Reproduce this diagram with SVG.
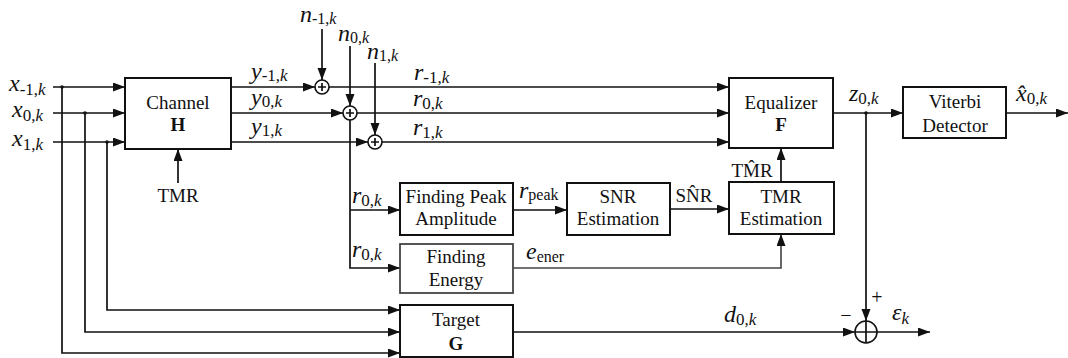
<svg xmlns="http://www.w3.org/2000/svg" width="1068" height="358" viewBox="0 0 1068 358">
<style>
.bg{fill:#fff}
.box{fill:#fff;stroke:#111;stroke-width:2}
.gbox{fill:#fff;stroke:#444;stroke-width:1.8}
.ln{fill:none;stroke:#111;stroke-width:1.7}
.gln{fill:none;stroke:#444;stroke-width:1.6}
.sum{fill:#fff;stroke:#111;stroke-width:1.6}
.t{font-family:"Liberation Serif","Times New Roman",serif;font-size:19px;fill:#111;text-anchor:middle}
.bd{font-weight:bold}
.m{font-family:"Liberation Serif","Times New Roman",serif;font-size:24px;font-style:italic;fill:#111}
.s{font-size:17px}
.s2{font-size:16px}
.u{font-style:normal}
.dot{fill:#111}
</style>
<defs>
<marker id="ah" markerUnits="userSpaceOnUse" markerWidth="12" markerHeight="10" refX="12" refY="4.5" orient="auto">
<path d="M0,0 L12,4.5 L0,9 z" fill="#111"/>
</marker>
</defs>
<rect class="bg" x="0" y="0" width="1068" height="358"/>

<g id="connectors">
<path class="ln" d="M53,87 H125" marker-end="url(#ah)"/>
<path class="ln" d="M53,113 H125" marker-end="url(#ah)"/>
<path class="ln" d="M53,142 H125" marker-end="url(#ah)"/>
<path class="ln" d="M107,142 V310 H400" marker-end="url(#ah)"/>
<path class="ln" d="M85,113 V332 H400" marker-end="url(#ah)"/>
<path class="ln" d="M62,87 V353 H400" marker-end="url(#ah)"/>
<circle class="dot" cx="62" cy="87" r="1.8"/>
<circle class="dot" cx="85" cy="113" r="1.8"/>
<circle class="dot" cx="107" cy="142" r="1.8"/>
<path class="ln" d="M178,183 V149" marker-end="url(#ah)"/>
<path class="ln" d="M231,87 H315" marker-end="url(#ah)"/>
<path class="ln" d="M231,113 H343" marker-end="url(#ah)"/>
<path class="ln" d="M231,142 H368" marker-end="url(#ah)"/>
<path class="ln" d="M322,29 V80" marker-end="url(#ah)"/>
<path class="ln" d="M350,46 V106" marker-end="url(#ah)"/>
<path class="ln" d="M375,63 V135" marker-end="url(#ah)"/>
<path class="ln" d="M329,87 H729" marker-end="url(#ah)"/>
<path class="ln" d="M357,113 H729" marker-end="url(#ah)"/>
<path class="ln" d="M382,142 H729" marker-end="url(#ah)"/>
<path class="ln" d="M350,120 V268 H400" marker-end="url(#ah)"/>
<path class="ln" d="M350,210 H400" marker-end="url(#ah)"/>
<path class="ln" d="M513,210 H567" marker-end="url(#ah)"/>
<path class="ln" d="M670,209 H729" marker-end="url(#ah)"/>
<path class="gln" d="M513,268 H781 V234" marker-end="url(#ah)"/>
<path class="ln" d="M781,182 V148" marker-end="url(#ah)"/>
<path class="ln" d="M833,113 H903" marker-end="url(#ah)"/>
<circle class="dot" cx="866" cy="113" r="1.8"/>
<path class="ln" d="M1006,113 H1068" marker-end="url(#ah)"/>
<path class="ln" d="M866,113 V321" marker-end="url(#ah)"/>
<path class="ln" d="M513,332 H855" marker-end="url(#ah)"/>
<path class="ln" d="M877,332 H930" marker-end="url(#ah)"/>
</g>

<g id="sum-m1"><circle class="sum" cx="322" cy="87" r="7"/><path class="ln" d="M318,87 H326 M322,83 V91"/></g>
<g id="sum-0"><circle class="sum" cx="350" cy="113" r="7"/><path class="ln" d="M346,113 H354 M350,109 V117"/></g>
<g id="sum-1"><circle class="sum" cx="375" cy="142" r="7"/><path class="ln" d="M371,142 H379 M375,138 V146"/></g>
<g id="sum-err"><circle class="sum" cx="866" cy="332" r="11"/><path class="ln" d="M855,332 H877 M866,321 V343"/></g>

<g id="channel">
<rect class="box" x="125" y="78" width="106" height="71"/>
<text class="t" x="178" y="109">Channel</text>
<text class="t bd" x="178" y="131">H</text>
</g>
<g id="equalizer">
<rect class="box" x="729" y="78" width="104" height="70"/>
<text class="t" x="781" y="109">Equalizer</text>
<text class="t bd" x="781" y="131">F</text>
</g>
<g id="viterbi">
<rect class="box" x="903" y="87" width="103" height="51"/>
<text class="t" x="955" y="108">Viterbi</text>
<text class="t" x="955" y="132">Detector</text>
</g>
<g id="peak">
<rect class="box" x="400" y="183" width="113" height="52"/>
<text class="t" x="456" y="203">Finding Peak</text>
<text class="t" x="456" y="225">Amplitude</text>
</g>
<g id="snr">
<rect class="box" x="567" y="183" width="103" height="52"/>
<text class="t" x="618" y="203">SNR</text>
<text class="t" x="618" y="225">Estimation</text>
</g>
<g id="tmrest">
<rect class="box" x="729" y="182" width="105" height="52"/>
<text class="t" x="781" y="203">TMR</text>
<text class="t" x="781" y="225">Estimation</text>
</g>
<g id="energy">
<rect class="gbox" x="400" y="244" width="113" height="49"/>
<text class="t" x="456" y="263">Finding</text>
<text class="t" x="456" y="286">Energy</text>
</g>
<g id="target">
<rect class="box" x="400" y="305" width="113" height="52"/>
<text class="t" x="456" y="326">Target</text>
<text class="t bd" x="456" y="350">G</text>
</g>

<g id="labels">
<text class="m" x="9" y="91">x<tspan class="s" dy="4"><tspan class="u">-1,</tspan>k</tspan></text>
<text class="m" x="12" y="117">x<tspan class="s" dy="4"><tspan class="u">0,</tspan>k</tspan></text>
<text class="m" x="12" y="146">x<tspan class="s" dy="4"><tspan class="u">1,</tspan>k</tspan></text>
<text class="t" x="178" y="202">TMR</text>
<text class="m" x="251" y="79">y<tspan class="s" dy="2"><tspan class="u">-1,</tspan>k</tspan></text>
<text class="m" x="251" y="105">y<tspan class="s" dy="2"><tspan class="u">0,</tspan>k</tspan></text>
<text class="m" x="251" y="134">y<tspan class="s" dy="2"><tspan class="u">1,</tspan>k</tspan></text>
<text class="m" x="300" y="22">n<tspan class="s2" dy="2"><tspan class="u">-1,</tspan>k</tspan></text>
<text class="m" x="338" y="41">n<tspan class="s2" dy="2"><tspan class="u">0,</tspan>k</tspan></text>
<text class="m" x="367" y="59">n<tspan class="s2" dy="2"><tspan class="u">1,</tspan>k</tspan></text>
<text class="m" x="414" y="80">r<tspan class="s" dy="3"><tspan class="u">-1,</tspan>k</tspan></text>
<text class="m" x="413" y="106">r<tspan class="s" dy="3"><tspan class="u">0,</tspan>k</tspan></text>
<text class="m" x="413" y="135">r<tspan class="s" dy="3"><tspan class="u">1,</tspan>k</tspan></text>
<text class="m" x="352" y="203">r<tspan class="s" dy="3"><tspan class="u">0,</tspan>k</tspan></text>
<text class="m" x="352" y="257">r<tspan class="s" dy="3"><tspan class="u">0,</tspan>k</tspan></text>
<text class="m" x="519" y="198">r<tspan class="s2 u" dy="2">peak</tspan></text>
<text class="t" x="694" y="202">SN&#770;R</text>
<text class="m" x="526" y="259">e<tspan class="s2 u" dy="3">ener</tspan></text>
<text class="t" x="752" y="177">TM&#770;R</text>
<text class="m" x="849" y="101">z<tspan class="s" dy="3"><tspan class="u">0,</tspan>k</tspan></text>
<text class="m" x="1016" y="101">x&#770;<tspan class="s" dy="3"><tspan class="u">0,</tspan>k</tspan></text>
<text class="m" x="724" y="322">d<tspan class="s" dy="3"><tspan class="u">0,</tspan>k</tspan></text>
<text class="m" x="892" y="320">&#949;<tspan class="s" dy="4">k</tspan></text>
<text class="t" x="877" y="304" style="font-size:20px">+</text>
<text class="t" x="846" y="322" style="font-size:20px">&#8722;</text>
</g>
</svg>
